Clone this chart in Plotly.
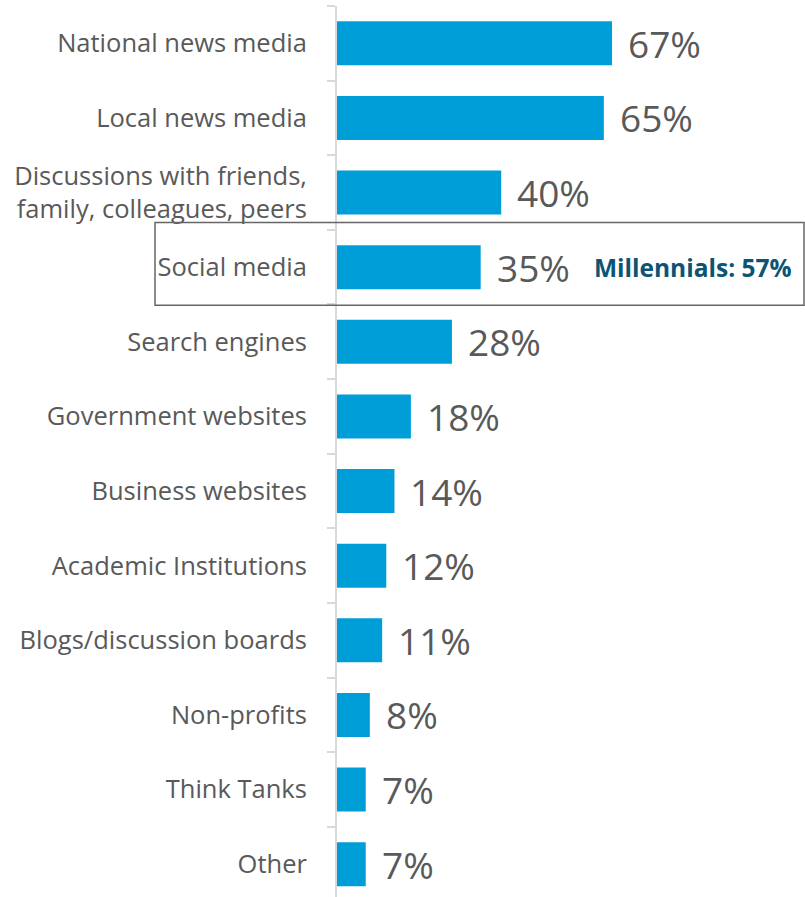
import plotly.graph_objects as go

# Survey: sources people rely on for information
categories = [
    "National news media",
    "Local news media",
    "Discussions with friends,<br>family, colleagues, peers",
    "Social media",
    "Search engines",
    "Government websites",
    "Business websites",
    "Academic Institutions",
    "Blogs/discussion boards",
    "Non-profits",
    "Think Tanks",
    "Other",
]
shares = [67, 65, 40, 35, 28, 18, 14, 12, 11, 8, 7, 7]
callout_text = "Millennials: 57%"
callout_category = "Social media"

W, H = 805, 897
ML, MR, MT, MB = 337, 0, 6, 0
plot_w = W - ML - MR
x_max = 114.0
y_top, y_bottom = -0.5, 11.44

BAR = "#009ED9"
GREY = "#595959"
AXIS = "#D9D9D9"
FONT = "Open Sans"

fig = go.Figure(
    go.Bar(
        x=shares,
        y=categories,
        orientation="h",
        marker=dict(color=BAR, line=dict(width=0)),
        hoverinfo="skip",
    )
)

# percentage labels to the right of each bar
for cat, v in zip(categories, shares):
    fig.add_annotation(
        x=v, y=cat, xref="x", yref="y",
        text=f"{v}%", showarrow=False,
        xanchor="left", yanchor="middle", xshift=14, yshift=0,
        font=dict(family=FONT, size=37, color=GREY),
    )

# highlight box around the social media row
idx = categories.index(callout_category)
def ypaper(c):
    return (y_bottom - c) / (y_bottom - y_top)

fig.add_shape(
    type="rect", xref="paper", yref="paper",
    x0=(155 - ML) / plot_w, x1=(804 - ML) / plot_w,
    y0=ypaper(idx + 0.51), y1=ypaper(idx - 0.6),
    line=dict(color="#666666", width=1.5), fillcolor="rgba(0,0,0,0)",
)
fig.add_annotation(
    x=(592 - ML) / plot_w, y=callout_category, xref="paper", yref="y",
    text=f"<b>{callout_text}</b>", showarrow=False,
    xanchor="left", yanchor="middle", yshift=0,
    font=dict(family=FONT, size=24.5, color="#0B5474"),
)

fig.update_layout(
    width=W, height=H,
    margin=dict(l=ML, r=MR, t=MT, b=MB, pad=0),
    paper_bgcolor="white", plot_bgcolor="white",
    bargap=0.41, showlegend=False,
    xaxis=dict(range=[0, x_max], visible=False, fixedrange=True),
    yaxis=dict(
        type="category",
        range=[y_bottom, y_top],
        showline=True, linecolor=AXIS, linewidth=2,
        ticks="outside", tickson="boundaries", ticklen=8,
        tickcolor=AXIS, tickwidth=2,
        ticklabelstandoff=23,
        showgrid=False, zeroline=False,
        tickfont=dict(family=FONT, size=25.5, color=GREY),
    ),
)

fig.write_html("out.html")
